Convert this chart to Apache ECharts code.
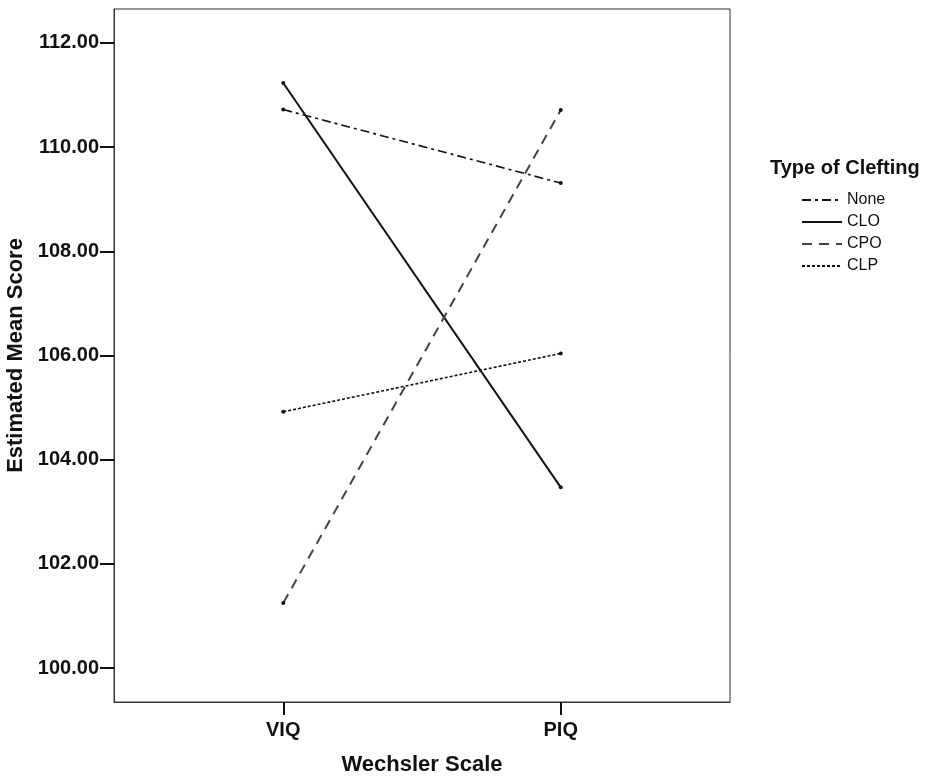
<!DOCTYPE html>
<html>
<head>
<meta charset="utf-8">
<script src="https://cdn.jsdelivr.net/npm/echarts@6/dist/echarts.min.js"></script>
<style>
  html, body { margin: 0; padding: 0; background: #fff; }
  #chart { width: 930px; height: 781px; }
</style>
</head>
<body>
<div id="chart"></div>
<script>
var scales = ['VIQ', 'PIQ'];
var groups = ['None', 'CLO', 'CPO', 'CLP'];
var noneScores = [110.72, 109.31];
var cloScores = [111.23, 103.47];
var cpoScores = [101.25, 110.71];
var clpScores = [104.92, 106.04];
var yTicks = [100, 102, 104, 106, 108, 110, 112];

var chart = echarts.init(document.getElementById('chart'));
var font = 'Liberation Sans, Arial, sans-serif';

function pts(values) {
  return values.map(function(v, i) { return [i, v]; });
}

var styles = [
  { color: '#111', width: 1.6, type: [9, 4, 3, 4] },
  { color: '#111', width: 2, type: 'solid' },
  { color: '#444', width: 2, type: [10, 7] },
  { color: '#111', width: 1.6, type: [3, 2] }
];
var allScores = [noneScores, cloScores, cpoScores, clpScores];

var series = groups.map(function(name, k) {
  return {
    name: name,
    type: 'line',
    data: pts(allScores[k]),
    symbol: 'circle',
    symbolSize: 4,
    itemStyle: { color: '#111' },
    lineStyle: styles[k],
    silent: true,
    animation: false
  };
});

chart.setOption({
  animation: false,
  title: {
    text: 'Type of Clefting',
    left: 765,
    top: 153,
    textStyle: { fontFamily: font, fontSize: 20, fontWeight: 'bold', color: '#111' }
  },
  legend: {
    orient: 'vertical',
    left: 796,
    top: 187,
    itemWidth: 40,
    itemHeight: 10,
    itemGap: 6,
    itemStyle: { opacity: 0 },
    textStyle: { fontFamily: font, fontSize: 16, color: '#111' },
    data: groups
  },
  grid: {
    left: 114, right: 200, top: 9, bottom: 79,
    containLabel: false,
    outerBoundsMode: 'none',
    show: true, borderColor: '#333', borderWidth: 1
  },
  xAxis: {
    type: 'value',
    min: -0.61,
    max: 1.61,
    name: 'Wechsler Scale',
    nameLocation: 'middle',
    nameGap: 52,
    nameTextStyle: { fontFamily: font, fontSize: 22, fontWeight: 'bold', color: '#111' },
    axisLine: { onZero: false, lineStyle: { color: '#333' } },
    splitLine: { show: false },
    axisTick: { length: 13, customValues: [0, 1], lineStyle: { color: '#111', width: 2 } },
    axisLabel: {
      customValues: [0, 1],
      margin: 18,
      fontFamily: font, fontSize: 20, fontWeight: 'bold', color: '#111',
      formatter: function(v) { return scales[Math.round(v)]; }
    }
  },
  yAxis: {
    type: 'value',
    min: 99.35,
    max: 112.65,
    name: 'Estimated Mean Score',
    nameLocation: 'middle',
    nameGap: 76,
    nameTextStyle: { fontFamily: font, fontSize: 22, fontWeight: 'bold', color: '#111' },
    axisLine: { show: true, onZero: false, lineStyle: { color: '#333' } },
    splitLine: { show: false },
    axisTick: { length: 14, customValues: yTicks, lineStyle: { color: '#111', width: 2 } },
    axisLabel: {
      customValues: yTicks,
      margin: 15,
      fontFamily: font, fontSize: 20, fontWeight: 'bold', color: '#111',
      formatter: function(v) { return v.toFixed(2); }
    }
  },
  series: series
});

window.addEventListener('resize', function() { chart.resize(); });
</script>
</body>
</html>
